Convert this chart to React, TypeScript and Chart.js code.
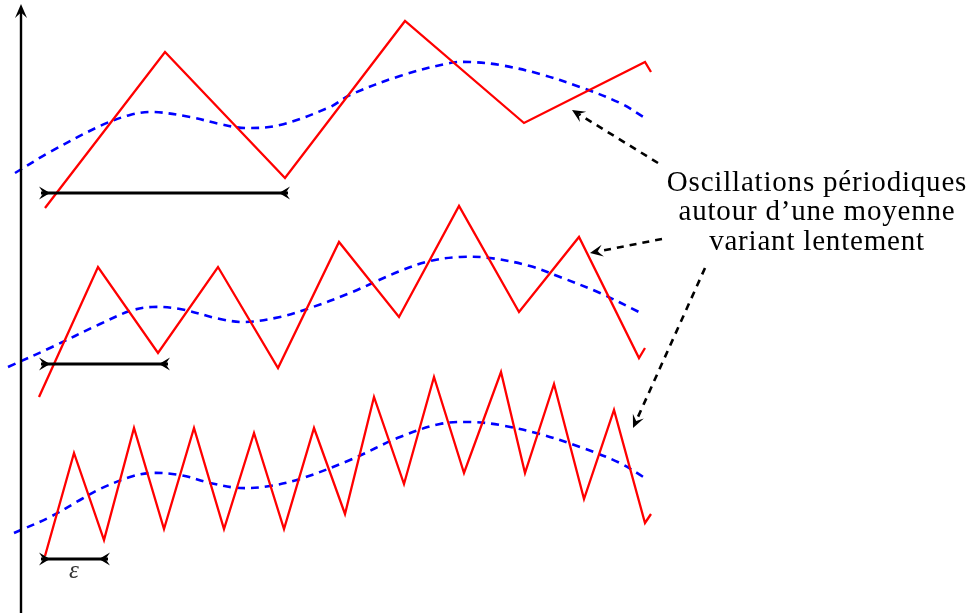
import React, { useEffect, useRef } from "react";
import { Chart, registerables } from "chart.js";

Chart.register(...registerables);

// ---- Data (in drawing units: x to the right, y downward) ----
// Red oscillations (three frequencies)
const redTopX = [45, 165, 285, 405, 524, 645, 651];
const redTopY = [208, 52, 178, 21, 123, 62, 72];
const redMidX = [39, 98, 158, 218, 278, 339, 399, 459, 519, 579, 639, 645];
const redMidY = [397, 267, 353, 267, 368, 242, 317, 206, 312, 237, 358, 348];
const redBotX = [45, 74, 104, 134, 164, 194, 224, 254, 284, 314, 345, 374, 404, 434, 464, 501, 525, 554, 584, 614, 645, 651];
const redBotY = [556, 453, 540, 428, 529, 428, 529, 433, 529, 428, 514, 397, 484, 377, 473, 372, 473, 384, 499, 410, 523, 514];

// Blue slowly varying means
const blueTopX = [15, 50, 100, 130, 153, 190, 220, 245, 280, 330, 350, 400, 450, 470, 500, 540, 580, 620, 645];
const blueTopY = [173, 152, 126, 115, 112, 117, 124, 128, 125, 107, 95, 76, 63, 62, 65, 74, 87, 103, 118];
const blueMidX = [8, 50, 100, 130, 152, 180, 220, 245, 280, 310, 350, 400, 430, 460, 490, 530, 560, 600, 639];
const blueMidY = [367, 348, 324, 311, 307, 309, 319, 322, 317, 308, 293, 271, 261, 257, 258, 266, 277, 293, 312];
const blueBotX = [14, 50, 80, 100, 130, 150, 180, 210, 240, 270, 300, 350, 400, 440, 470, 500, 540, 580, 620, 645];
const blueBotY = [533, 517, 500, 489, 477, 473, 475, 483, 488, 486, 479, 460, 437, 424, 422, 425, 434, 447, 463, 478];

// Period markers
const periodStartX = [39, 39, 39];
const periodEndX = [290, 170, 110];
const periodY = [193, 364, 559];

// Vertical axis
const axisX = [21, 21];
const axisY = [613, 4];

// Annotation arrows (tail -> tip)
const annTailX = [658, 662, 705];
const annTailY = [163, 239, 268];
const annTipX = [572, 590, 633];
const annTipY = [110, 253, 428];

// Texts
const annotationLines = ["Oscillations périodiques", "autour d’une moyenne", "variant lentement"];
const annotationCenterX = 817;
const annotationBaselines = [191, 220, 250];
const epsilonLabel = "ε";
const epsilonX = 74;
const epsilonY = 578;

const pts = (xs: number[], ys: number[]) => xs.map((x, i) => ({ x, y: ys[i] }));

function stealth(ctx: CanvasRenderingContext2D, tx: number, ty: number, ang: number, len: number, hw: number) {
  const dx = Math.cos(ang), dy = Math.sin(ang);
  const px = -dy, py = dx;
  const bx = tx - dx * len, by = ty - dy * len;
  const ix = tx - dx * len * 0.6, iy = ty - dy * len * 0.6;
  ctx.beginPath();
  ctx.moveTo(tx, ty);
  ctx.lineTo(bx + px * hw, by + py * hw);
  ctx.lineTo(ix, iy);
  ctx.lineTo(bx - px * hw, by - py * hw);
  ctx.closePath();
  ctx.fill();
}

const decoPlugin = {
  id: "deco",
  afterDatasetsDraw(chart: any) {
    const ctx: CanvasRenderingContext2D = chart.ctx;
    const sx = chart.scales.x, sy = chart.scales.y;
    const X = (v: number) => sx.getPixelForValue(v);
    const Y = (v: number) => sy.getPixelForValue(v);
    ctx.save();
    ctx.fillStyle = "#000";
    // axis arrow head
    {
      const tx = X(axisX[1]), ty = Y(axisY[1]);
      const ang = Math.atan2(Y(axisY[1]) - Y(axisY[0]), X(axisX[1]) - X(axisX[0]));
      stealth(ctx, tx, ty, ang, 14, 6);
    }
    // annotation arrow heads
    for (let i = 0; i < annTipX.length; i++) {
      const ang = Math.atan2(Y(annTipY[i]) - Y(annTailY[i]), X(annTipX[i]) - X(annTailX[i]));
      stealth(ctx, X(annTipX[i]), Y(annTipY[i]), ang, 13, 6);
    }
    // period marker heads (pointing inward)
    for (let i = 0; i < periodY.length; i++) {
      const y = Y(periodY[i]);
      stealth(ctx, X(periodStartX[i]) + 11, y, 0, 11, 6.5);
      stealth(ctx, X(periodEndX[i]) - 11, y, Math.PI, 11, 6.5);
    }
    // texts
    ctx.fillStyle = "#000";
    ctx.textAlign = "center";
    ctx.textBaseline = "alphabetic";
    ctx.font = '29px "Liberation Serif", serif';
    try { (ctx as any).letterSpacing = "0.8px"; } catch (e) {}
    annotationLines.forEach((t, i) => ctx.fillText(t, X(annotationCenterX), Y(annotationBaselines[i])));
    try { (ctx as any).letterSpacing = "0px"; } catch (e) {}
    ctx.fillStyle = "#333";
    ctx.font = 'italic 25px "Liberation Serif", serif';
    ctx.fillText(epsilonLabel, X(epsilonX), Y(epsilonY));
    ctx.restore();
  },
};

export default function App() {
  const ref = useRef<HTMLCanvasElement | null>(null);
  useEffect(() => {
    document.body.style.margin = "0";
    const canvas = ref.current!;
    const seg = (x1: number, y1: number, x2: number, y2: number, extra: any) => ({
      data: [{ x: x1, y: y1 }, { x: x2, y: y2 }],
      borderColor: "#000",
      borderWidth: 2.4,
      pointRadius: 0,
      showLine: true,
      fill: false,
      clip: false,
      ...extra,
    });
    const datasets: any[] = [];
    // black elements on top
    datasets.push(seg(axisX[0], axisY[0], axisX[1], axisY[1] + 8, { borderWidth: 2.4 }));
    for (let i = 0; i < periodY.length; i++) {
      datasets.push(seg(periodStartX[i] + 2, periodY[i], periodEndX[i] - 2, periodY[i], { borderWidth: 2.8 }));
    }
    for (let i = 0; i < annTipX.length; i++) {
      const ang = Math.atan2(annTipY[i] - annTailY[i], annTipX[i] - annTailX[i]);
      datasets.push(
        seg(annTailX[i], annTailY[i], annTipX[i] - Math.cos(ang) * 8, annTipY[i] - Math.sin(ang) * 8, {
          borderWidth: 2.6,
          borderDash: [7, 6],
        })
      );
    }
    const red = (xs: number[], ys: number[]) => ({
      data: pts(xs, ys),
      borderColor: "#ff0000",
      borderWidth: 2.3,
      pointRadius: 0,
      showLine: true,
      tension: 0,
      fill: false,
      clip: false,
      borderJoinStyle: "miter",
    });
    const blue = (xs: number[], ys: number[]) => ({
      data: pts(xs, ys),
      borderColor: "#0000ff",
      borderWidth: 2.6,
      borderDash: [8, 6],
      pointRadius: 0,
      showLine: true,
      tension: 0.35,
      fill: false,
      clip: false,
    });
    datasets.push(red(redTopX, redTopY), red(redMidX, redMidY), red(redBotX, redBotY));
    datasets.push(blue(blueTopX, blueTopY), blue(blueMidX, blueMidY), blue(blueBotX, blueBotY));

    const chart = new Chart(canvas, {
      type: "scatter",
      data: { datasets },
      options: {
        animation: false,
        responsive: false,
        maintainAspectRatio: false,
        layout: { padding: 0 },
        plugins: { legend: { display: false }, tooltip: { enabled: false }, title: { display: false } },
        events: [],
        scales: {
          x: { type: "linear", min: 0, max: 971, display: false },
          y: { type: "linear", min: 0, max: 613, reverse: true, display: false },
        },
      },
      plugins: [decoPlugin],
    } as any);
    return () => chart.destroy();
  }, []);
  return (
    <div style={{ position: "fixed", left: 0, top: 0, width: 971, height: 613, background: "#fff" }}>
      <canvas ref={ref} width={971} height={613} style={{ width: 971, height: 613, display: "block" }} />
    </div>
  );
}
